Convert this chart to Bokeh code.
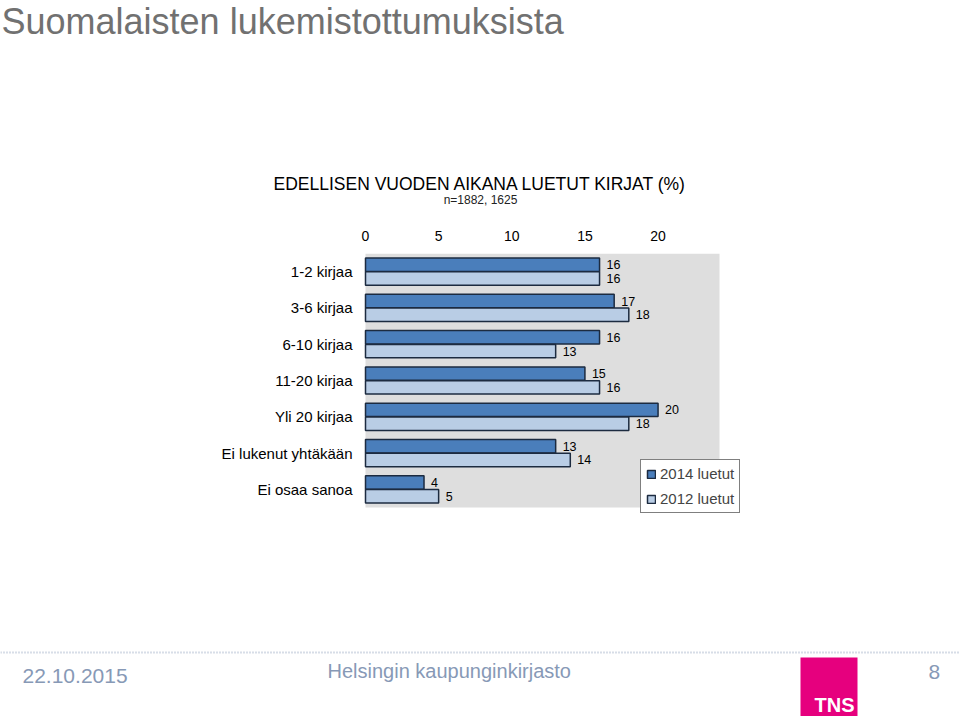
from bokeh.plotting import figure
from bokeh.models import (ColumnDataSource, Range1d, FixedTicker, Label, Legend,
                          LegendItem, Span, BoxAnnotation)
from bokeh.layouts import column
from bokeh.core.properties import value
from bokeh.embed import file_html
from bokeh.resources import INLINE

# ---- data ----
categories = ["1-2 kirjaa", "3-6 kirjaa", "6-10 kirjaa", "11-20 kirjaa",
              "Yli 20 kirjaa", "Ei lukenut yhtäkään", "Ei osaa sanoa"]
values_2014 = [16, 17, 16, 15, 20, 13, 4]
values_2012 = [16, 18, 13, 16, 18, 14, 5]
series_names = ["2014 luetut", "2012 luetut"]
x_ticks = [0, 5, 10, 15, 20]
axis_max = 24.2          # right edge of the grey plot area

FONT = "Liberation Sans"
DARK = "#4A7EBB"
LIGHT = "#B9CDE5"
EDGE = "#1C2B40"
GREY = "#DEDEDE"

# ---- page geometry (pixels) ----
W, H = 960, 716
H_HEAD = 215
FL, FR = 365, 719         # grey plot area left / right edge
PT, PB = 253, 507         # grey plot area top / bottom edge
PPU = (FR - FL) / axis_max            # pixels per x unit
SLOT = (PB - PT) / len(categories)    # pixels per category

idx = list(range(1, len(categories) + 1))
src = ColumnDataSource(dict(
    cat=categories, idx=idx,
    y14=[i - 0.19 for i in idx], y12=[i + 0.19 for i in idx],
    v14=values_2014, v12=values_2012,
    l14=[str(v) for v in values_2014], l12=[str(v) for v in values_2012],
))

# ---- header figure ----
h = figure(width=W, height=H_HEAD, output_backend="svg", toolbar_location=None,
           x_range=Range1d(0, W), y_range=Range1d(H_HEAD, 0),
           x_axis_location=None, y_axis_location=None,
           min_border=0, min_border_left=0, min_border_right=0,
           min_border_top=0, min_border_bottom=0)
h.grid.visible = False
h.outline_line_color = None
h.background_fill_color = "white"
h.border_fill_color = "white"


def hlab(text, x, y, size, color, align="left"):
    h.add_layout(Label(x=x, y=y, text=text, text_font=FONT, text_font_size=size,
                       text_color=color, text_align=align, text_baseline="middle"))


hlab("Suomalaisten lukemistottumuksista", 1, 21, "36px", "#717171")
hlab("EDELLISEN VUODEN AIKANA LUETUT KIRJAT (%)", 480, 183, "17.5px", "black", "center")
hlab("n=1882, 1625", 480, 199, "12px", "#222222", "center")

# ---- main figure (frame spans the full width, from the grey area's top to page bottom) ----
H_MAIN = H - H_HEAD
top_border = PT - H_HEAD
frame_h = H_MAIN - top_border
y_top = 0.5
y_bottom = y_top + frame_h / SLOT

p = figure(width=W, height=H_MAIN, output_backend="svg", toolbar_location=None,
           x_range=Range1d(-FL / PPU, (W - FL) / PPU),
           y_range=Range1d(y_bottom, y_top),
           x_axis_location="above", y_axis_location=None,
           min_border_left=0, min_border_right=0,
           min_border_top=top_border, min_border_bottom=0)
p.background_fill_color = "white"
p.border_fill_color = "white"
p.outline_line_color = None
p.xgrid.grid_line_color = None
p.ygrid.grid_line_color = None

# grey plot area
p.quad(left=[0], right=[axis_max], top=[0.5], bottom=[len(categories) + 0.5],
       fill_color=GREY, line_color=None)

r14 = p.hbar(y="y14", right="v14", left=0, height=0.37, source=src,
             fill_color=DARK, line_color=EDGE, line_width=1.5)
r12 = p.hbar(y="y12", right="v12", left=0, height=0.37, source=src,
             fill_color=LIGHT, line_color=EDGE, line_width=1.5)

for ycol, xcol, lcol in (("y14", "v14", "l14"), ("y12", "v12", "l12")):
    p.text(x=xcol, y=ycol, text=lcol, source=src, x_offset=7,
           text_baseline="middle", text_align="left",
           text_font=value(FONT), text_font_size="12.5px", text_color="black")

# category labels
p.text(x=0, y="idx", text="cat", source=src, x_offset=-13, text_align="right",
       text_baseline="middle", text_font=value(FONT), text_font_size="15px",
       text_color="black")

xa = p.xaxis[0]
xa.ticker = FixedTicker(ticks=x_ticks)
xa.axis_line_color = None
xa.major_tick_line_color = None
xa.minor_tick_line_color = None
xa.major_label_standoff = 7
xa.major_label_text_font = FONT
xa.major_label_text_font_size = "14px"
xa.major_label_text_color = "black"

legend = Legend(items=[LegendItem(label=series_names[0], renderers=[r14]),
                       LegendItem(label=series_names[1], renderers=[r12])],
                location=(640, H - 513), orientation="vertical",
                padding=5, spacing=8, margin=0, glyph_width=10, glyph_height=10,
                label_standoff=4, label_height=16,
                label_text_font=FONT, label_text_font_size="15px",
                border_line_color="black", border_line_width=1,
                background_fill_color="white", background_fill_alpha=1)
p.add_layout(legend, "center")

# ---- footer (inside the main frame, screen units from the frame's bottom-left) ----
FOOT = "#8799B6"
p.add_layout(Span(location=H - 652, location_units="screen", dimension="width",
                  line_color="#B0BCD0", line_width=2, line_dash="1 2"))
p.add_layout(BoxAnnotation(left=800, right=857, top=H - 657, bottom=0,
                           left_units="screen", right_units="screen",
                           top_units="screen", bottom_units="screen",
                           fill_color="#E6007E", fill_alpha=1, line_color=None))


def flab(text, x, cy, size, color, align="left", style="normal"):
    p.add_layout(Label(x=x, y=H - cy, x_units="screen", y_units="screen", text=text,
                       text_font=FONT, text_font_size=size, text_color=color,
                       text_align=align, text_baseline="middle",
                       text_font_style=style))


flab("22.10.2015", 22, 675, "21px", FOOT)
flab("Helsingin kaupunginkirjasto", 327, 670, "20px", FOOT)
flab("8", 928, 671, "21px", FOOT)
flab("TNS", 854, 704, "20px", "white", align="right", style="bold")

page = column(h, p, spacing=0)
open("out.html", "w").write(file_html(page, INLINE))
